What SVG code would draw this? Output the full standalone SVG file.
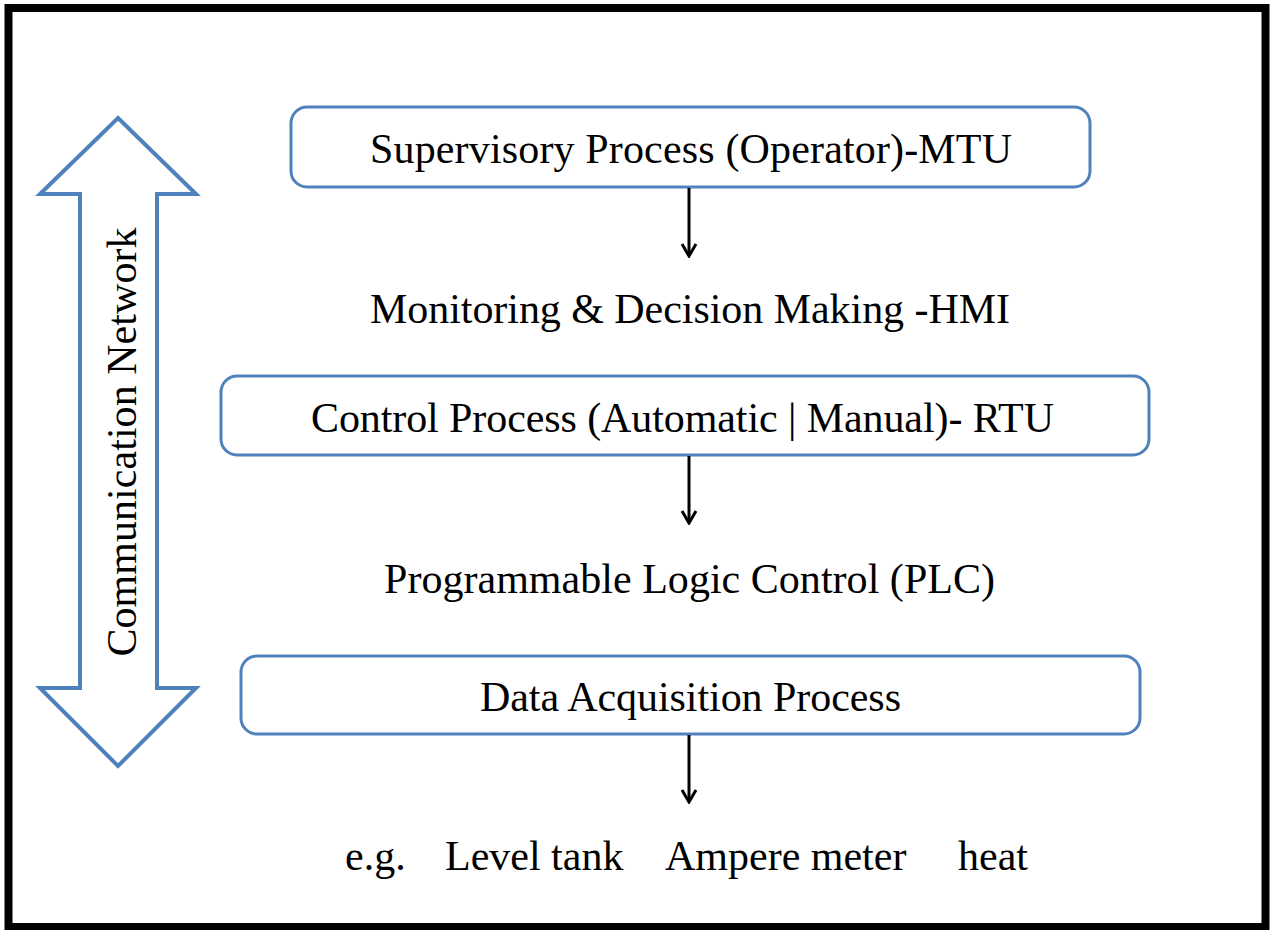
<svg xmlns="http://www.w3.org/2000/svg" width="1270" height="930" viewBox="0 0 1270 930">
  <style>
    .box { fill: #ffffff; stroke: #4F81BD; stroke-width: 3; }
    .lbl { font-family: "Liberation Serif", "Times New Roman", serif; font-size: 42px; fill: #000000; }
    .conn { stroke: #000000; stroke-width: 3; fill: none; }
  </style>
  <defs>
    <marker id="arrow" viewBox="0 0 16 18" refX="14" refY="9" markerWidth="16" markerHeight="18" markerUnits="userSpaceOnUse" orient="auto">
      <path d="M2,2 L14,9 L2,16" fill="none" stroke="#000000" stroke-width="3"/>
    </marker>
  </defs>
  <rect x="0" y="0" width="1270" height="930" fill="#ffffff"/>
  <rect id="frame" x="8.5" y="8" width="1257" height="919" fill="none" stroke="#000000" stroke-width="8"/>

  <g id="comm-network">
    <polygon points="118,118 196,194 157,194 157,688 196,688 118,766 40,688 80,688 80,194 40,194" fill="#ffffff" stroke="#4F81BD" stroke-width="4" stroke-linejoin="miter"/>
    <text class="lbl" transform="translate(136,442) rotate(-90)" text-anchor="middle" textLength="429">Communication Network</text>
  </g>

  <g id="supervisory">
    <rect class="box" x="291" y="107" width="799" height="80" rx="16" ry="16"/>
    <text class="lbl" x="691" y="163" text-anchor="middle" textLength="642">Supervisory Process (Operator)-MTU</text>
  </g>

  <g id="hmi">
    <text class="lbl" x="690" y="323" text-anchor="middle" textLength="640">Monitoring &amp; Decision Making -HMI</text>
  </g>

  <g id="control">
    <rect class="box" x="221" y="376" width="928" height="79" rx="16" ry="16"/>
    <text class="lbl" x="682.5" y="432" text-anchor="middle" textLength="743">Control Process (Automatic | Manual)- RTU</text>
  </g>

  <g id="plc">
    <text class="lbl" x="689.5" y="593" text-anchor="middle" textLength="611">Programmable Logic Control (PLC)</text>
  </g>

  <g id="daq">
    <rect class="box" x="241" y="656" width="899" height="78" rx="16" ry="16"/>
    <text class="lbl" x="690.5" y="711" text-anchor="middle" textLength="421">Data Acquisition Process</text>
  </g>

  <g id="examples">
    <text class="lbl" y="870"><tspan x="345">e.g.</tspan><tspan x="445">Level tank</tspan><tspan x="665">Ampere meter</tspan><tspan x="958">heat</tspan></text>
  </g>

  <g id="connectors">
    <line class="conn" x1="689" y1="188" x2="689" y2="256" marker-end="url(#arrow)"/>
    <line class="conn" x1="689" y1="456" x2="689" y2="523" marker-end="url(#arrow)"/>
    <line class="conn" x1="689" y1="735" x2="689" y2="802" marker-end="url(#arrow)"/>
  </g>
</svg>
